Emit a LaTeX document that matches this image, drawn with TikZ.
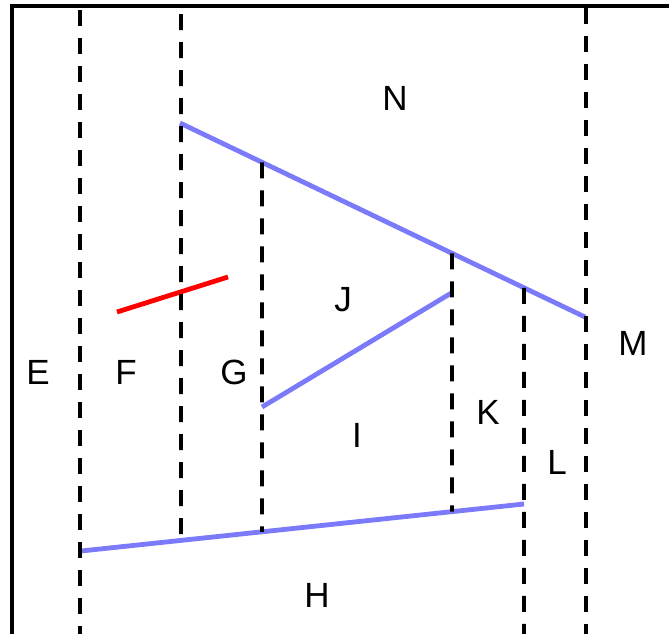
\documentclass[tikz,border=0pt]{standalone}
\usepackage{fontspec}
\setmainfont{Liberation Sans}
\usetikzlibrary{calc}

\begin{document}
\begin{tikzpicture}[
  x=0.5pt, y=-0.5pt,
  frame/.style={line width=2pt},
  bound/.style={line width=1.9pt, dash pattern=on 8pt off 6pt},
  seg/.style={line width=2.4pt, color=blueseg},
  cut/.style={line width=2.4pt, color=red},
  lbl/.style={font=\fontsize{17.5}{20}\selectfont, inner sep=0pt}
]
\definecolor{blueseg}{RGB}{122,122,250}
\useasboundingbox (0,0) rectangle (669,633);
% ends of the coloured segments
\coordinate (nl) at (180,123);
\coordinate (nr) at (585,317);
\coordinate (jl) at (262,407);
\coordinate (jr) at (453,292);
\coordinate (hl) at (81,551);
\coordinate (hr) at (524,504);
\coordinate (fl) at (117,312);
\coordinate (fr) at (228,277);
% outer frame
\draw[frame] (12,640) -- (12,6) -- (675,6);
% coloured segments
\draw[seg] (nl) -- (nr);
\draw[seg] (jl) -- (jr);
\draw[seg] (hl) -- (hr);
\draw[cut] (fl) -- (fr);
% dashed boundaries
\draw[bound] (80,10) -- (80,640);
\draw[bound] (181,14) -- ($(hl)!{(181-81)/(524-81)}!(hr)$);
\draw[bound] ($(nl)!{(262-180)/(585-180)}!(nr)$) -- ($(hl)!{(262-81)/(524-81)}!(hr)$);
\draw[bound] ($(nl)!{(452-180)/(585-180)}!(nr)$) -- ($(hl)!{(452-81)/(524-81)}!(hr)$);
\draw[bound] ($(nl)!{(524-180)/(585-180)}!(nr)$) -- (524,640);
\draw[bound] (586,8) -- (586,640);
% region labels
\node[lbl] (n) at (395,98) {N};
\node[lbl] (m) at (633,343) {M};
\node[lbl] (e) at (38,372) {E};
\node[lbl] (f) at (126,372) {F};
\node[lbl] (g) at (234,372) {G};
\node[lbl] (j) at (343,300) {J};
\node[lbl] (i) at (357,435) {I};
\node[lbl] (k) at (488,412) {K};
\node[lbl] (l) at (557,462) {L};
\node[lbl] (h) at (317,595) {H};
\end{tikzpicture}
\end{document}
